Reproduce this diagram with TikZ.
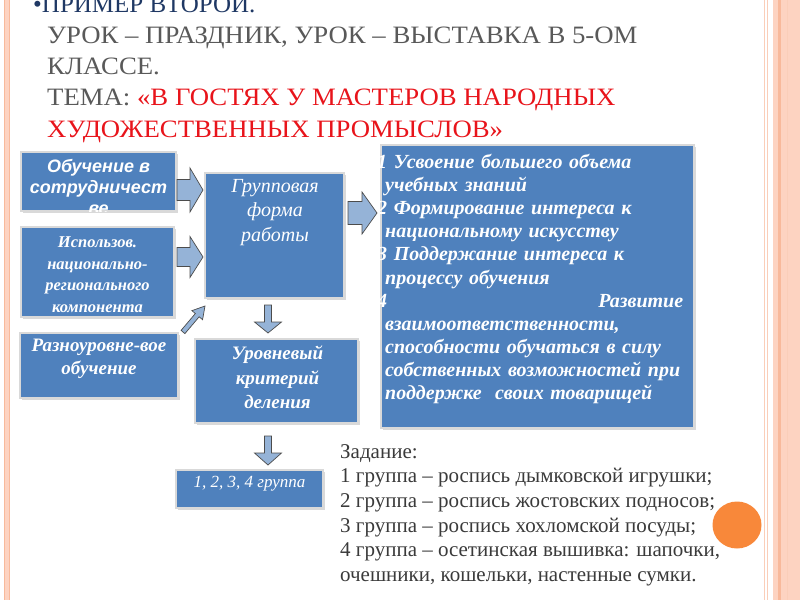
\documentclass[tikz,border=0pt]{standalone}
\usepackage{fontspec}
\setmainfont{Liberation Serif}
\newfontfamily\arialfont{Liberation Sans}
\newfontfamily\titlefont[FakeStretch=1.07]{Liberation Serif}
\usetikzlibrary{calc, shadows}
\definecolor{boxblue}{HTML}{4F81BD}
\definecolor{arrowblue}{HTML}{95B3D7}
\definecolor{titlenavy}{HTML}{1F3864}
\definecolor{titlegray}{HTML}{595959}
\definecolor{themered}{HTML}{E8141B}
\definecolor{tasktext}{HTML}{3A3A3A}
\definecolor{framefill}{HTML}{FDD3C1}
\definecolor{frameline}{HTML}{F8B99B}
\definecolor{dotorange}{HTML}{F8883A}
\tikzset{
	bluebox/.style={rectangle, fill=boxblue, draw=white!85!black, line width=1.2pt, inner sep=0pt,
		drop shadow={opacity=.3, shadow xshift=1.5pt, shadow yshift=-1.5pt}},
	boxtext/.style={text=white, align=center, inner sep=0pt},
	blockarr/.style={fill=arrowblue, draw=black!70, line width=.7pt, line join=miter},
	titleline/.style={anchor=base west, inner sep=0pt, text=titlegray, font=\titlefont\fontsize{25}{30}\selectfont},
	taskline/.style={anchor=base west, inner sep=0pt, text=tasktext, font=\fontsize{21}{24}\selectfont}
}
% block arrow: tail, tip, shaft half width, head half width, head length
\newcommand\blockarrow[5]{
	\draw[blockarr] let \p1=(#1), \p2=(#2), \n1={atan2(\y2-\y1,\x2-\x1)}, \n2={veclen(\x2-\x1,\y2-\y1)} in
		[shift={(\p1)}, rotate=\n1]
		(0pt,-#3pt) -- (\n2-#5pt,-#3pt) -- (\n2-#5pt,-#4pt) -- (\n2,0pt) -- (\n2-#5pt,#4pt) -- (\n2-#5pt,#3pt) -- (0pt,#3pt) -- cycle;
}

\begin{document}
\begin{tikzpicture}[x=1pt, y=-1pt]
\useasboundingbox (0,0) rectangle (800,600);
% slide frame
\fill[framefill] (3.5,0) rectangle (10,600);
\draw[frameline, line width=1pt] (4.5,0) -- (4.5,600) (9,0) -- (9,600);
\draw[frameline!70, line width=.8pt] (764.5,0) -- (764.5,600) (767,0) -- (767,600);
\fill[framefill] (773,0) rectangle (800,600);
\fill[frameline] (778,0) rectangle (781,600);
\draw[frameline!70, line width=.8pt] (787,0) -- (787,600);
\fill[dotorange] (737,525) ellipse [x radius=24.5, y radius=23.5];

% title
\node[titleline, text=titlenavy, font=\fontsize{25}{30}\selectfont] (t0) at (33,12) {\textbullet ПРИМЕР ВТОРОЙ.};
\node[titleline] (t1) at (47,43.3) {УРОК – ПРАЗДНИК, УРОК – ВЫСТАВКА В 5-ОМ};
\node[titleline] (t2) at (47,74.5) {КЛАССЕ.};
\node[titleline] (t3) at (47,105.7) {ТЕМА: \textcolor{themered}{«В ГОСТЯХ У МАСТЕРОВ НАРОДНЫХ}};
\node[titleline, text=themered] (t4) at (47,137) {ХУДОЖЕСТВЕННЫХ ПРОМЫСЛОВ»};

% boxes
\node[bluebox, minimum width=155, minimum height=59] (obuch) at (98.5,181.5) {};
\node[bluebox, minimum width=153, minimum height=90] (ispol) at (97.5,272) {};
\node[bluebox, minimum width=158, minimum height=65] (razno) at (99,365.5) {};
\node[bluebox, minimum width=139, minimum height=125] (grupp) at (274.5,235.5) {};
\node[bluebox, minimum width=163, minimum height=84] (urov) at (276.5,381) {};
\node[bluebox, minimum width=147, minimum height=38] (nomera) at (249.5,489) {};
\node[bluebox, minimum width=313, minimum height=283] (itog) at (537.5,286.5) {};

% box texts
\begin{scope}
	\clip (obuch.south west) rectangle (obuch.north east);
	\node[boxtext, font=\arialfont\bfseries\itshape\fontsize{18}{21}\selectfont] (obuch-t) at (98.5,187) {Обучение в\\сотрудничест\\ве};
\end{scope}
\node[boxtext, font=\bfseries\itshape\fontsize{16.5}{21.5}\selectfont] (ispol-t) at (97.5,274.5) {Использов.\\национально-\\регионального\\компонента};
\node[boxtext, font=\bfseries\itshape\fontsize{19}{23}\selectfont] (razno-t) at (99,358.5) {Разноуровне-вое\\обучение};
\node[boxtext, font=\itshape\fontsize{20}{24.5}\selectfont] (grupp-t) at (275,212.5) {Групповая\\форма\\работы};
\node[boxtext, font=\bfseries\itshape\fontsize{19}{24.5}\selectfont] (urov-t) at (277.5,377.5) {Уровневый\\критерий\\деления};
\node[boxtext, font=\itshape\fontsize{17}{20}\selectfont] (nomera-t) at (249.5,484) {1, 2, 3, 4 группа};
\node[boxtext, anchor=north west, text width=306pt, align=left, font=\bfseries\itshape\fontsize{20}{23.1}\selectfont] (itog-t) at (377,154) {%
1 Усвоение большего объема\\
\hspace*{8pt}учебных знаний\\
\makebox[306pt][s]{2 Формирование интереса к}\\
\hspace*{8pt}национальному искусству\\
\makebox[306pt][s]{3 Поддержание интереса к}\\
\hspace*{8pt}процессу обучения\\
\makebox[306pt][s]{4 \hfill Развитие}\\
\hspace*{8pt}взаимоответственности,\\
\hspace*{8pt}\makebox[298pt][s]{способности обучаться в силу}\\
\hspace*{8pt}\makebox[298pt][s]{собственных возможностей при}\\
\hspace*{8pt}поддержке\ \ своих товарищей};

% arrows
\coordinate (a1s) at (177,190);   \coordinate (a1e) at (203,190);
\coordinate (a2s) at (177,257);   \coordinate (a2e) at (203,257);
\coordinate (a3s) at (183,332);   \coordinate (a3e) at (205,306);
\coordinate (a4s) at (268,305);   \coordinate (a4e) at (268,333);
\coordinate (a5s) at (268,436);   \coordinate (a5e) at (268,465);
\coordinate (a6s) at (348,213);   \coordinate (a6e) at (377,213);
\blockarrow{a1s}{a1e}{10.5}{22}{13}
\blockarrow{a2s}{a2e}{9.5}{20.5}{13}
\blockarrow{a3s}{a3e}{2.5}{7}{12}
\blockarrow{a4s}{a4e}{3.5}{13.5}{11}
\blockarrow{a5s}{a5e}{3.5}{13.5}{12}
\blockarrow{a6s}{a6e}{11.5}{21}{15}

% task
\node[taskline] (z0) at (340,458) {Задание:};
\node[taskline] (z1) at (340,482.7) {1 группа – роспись дымковской игрушки;};
\node[taskline] (z2) at (340,507.4) {2 группа – роспись жостовских подносов;};
\node[taskline] (z3) at (340,532.1) {3 группа – роспись хохломской посуды;};
\node[taskline] (z4) at (340,556.8) {4 группа – осетинская вышивка: шапочки,};
\node[taskline] (z5) at (340,581.5) {очешники, кошельки, настенные сумки.};
\end{tikzpicture}
\end{document}
